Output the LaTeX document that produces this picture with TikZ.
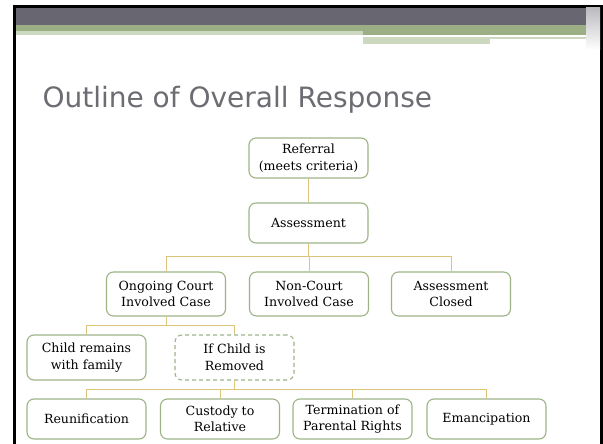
\documentclass[tikz,border=0pt]{standalone}
\usepackage{fontspec}
\setmainfont{DejaVu Serif}
\newfontfamily\titlefont{DejaVu Sans}
\usetikzlibrary{positioning,calc}
\definecolor{barGrey}{RGB}{104,102,112}
\definecolor{barGreen}{RGB}{156,175,132}
\definecolor{barLight}{RGB}{204,216,191}
\definecolor{boxGreen}{RGB}{158,180,134}
\definecolor{linkGold}{RGB}{220,196,120}
\definecolor{titleGrey}{RGB}{108,108,114}
\tikzset{
base/.style = {rectangle, rounded corners=7pt, draw=boxGreen, line width=1.1pt,
                fill=white, minimum width=119pt, text centered, align=center,
                inner sep=1pt, font=\fontsize{12.6}{16.5}\selectfont},
topbox/.style = {base, minimum height=40pt},
midbox/.style = {base, minimum height=44pt},
lowbox/.style = {base, minimum height=45pt},
removed/.style = {lowbox, dash pattern=on 4pt off 3pt},
leaf/.style = {base, minimum height=40pt},
link/.style = {draw=linkGold, line width=0.9pt},
}
\begin{document}
\begin{tikzpicture}[x=1pt, y=-1pt]

    \useasboundingbox (0,0) rectangle (603,444);
    \fill[white] (0,0) rectangle (603,444);

    % slide header bars
    \fill[black] (13,5) rectangle (603,8);
    \fill[black] (13,5) rectangle (16,444);
    \fill[black] (600,5) rectangle (602.5,444);
    \fill[barGrey] (16,8) rectangle (600,25);
    \fill[barGreen] (16,25) rectangle (600,31);
    \fill[barLight] (16,31) rectangle (363,35);
    \fill[barGreen] (363,31) rectangle (586,35);
    \fill[barLight] (363,37) rectangle (490,44);
    \fill[barLight] (490,37) rectangle (586,39);
    \fill[top color=barGrey!45, bottom color=white] (586,8) rectangle (600,50);

    \node[anchor=base west, text=titleGrey, font=\titlefont\fontsize{28}{30}\selectfont] (title) at(39, 107) {Outline of Overall Response};

    \node[topbox] (ref) at(308.5, 158)  {Referral\\(meets criteria)};
    \node[topbox] (ass) at(308.5, 223)  {Assessment};

    \node[midbox] (ong) at(166, 294)  {Ongoing Court\\Involved Case};
    \node[midbox] (non) at(309, 294)  {Non-Court\\Involved Case};
    \node[midbox] (closed) at(451, 294)  {Assessment\\Closed};

    \node[lowbox] (child) at(86.5, 357.5)  {Child remains\\with family};
    \node[removed] (rem) at(234.5, 357.5)  {If Child is\\Removed};

    \node[leaf] (reun) at(86.5, 419)  {Reunification};
    \node[leaf] (cust) at(220, 419)  {Custody to\\Relative};
    \node[leaf] (term) at(352.5, 419)  {Termination of\\Parental Rights};
    \node[leaf] (eman) at(486.5, 419)  {Emancipation};

    \draw[link] (ref)  --  (ass) ;

    \draw[link] (ass.south)  -- ++(0,13) -| (ong.north) ;
    \draw[link] (ass.south)  -- ++(0,13) -| (non.north) ;
    \draw[link] (ass.south)  -- ++(0,13) -| (closed.north) ;

    \draw[link] (ong.south)  -- ++(0,9) -| (child.north) ;
    \draw[link] (ong.south)  -- ++(0,9) -| (rem.north) ;

    \draw[link] (rem.south)  -- ++(0,9) -| (reun.north) ;
    \draw[link] (rem.south)  -- ++(0,9) -| (cust.north) ;
    \draw[link] (rem.south)  -- ++(0,9) -| (term.north) ;
    \draw[link] (rem.south)  -- ++(0,9) -| (eman.north) ;

\end{tikzpicture}
\end{document}
